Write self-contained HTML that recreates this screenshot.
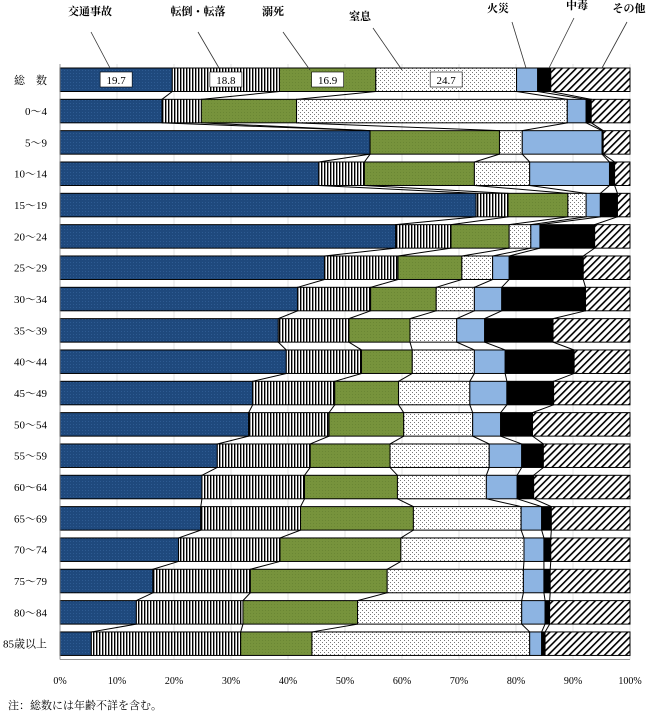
<!DOCTYPE html>
<html><head><meta charset="utf-8"><style>
html,body{margin:0;padding:0;background:#fff;width:650px;height:715px;overflow:hidden}
svg{display:block;font-family:"Liberation Serif","Noto Serif CJK SC",serif}
</style></head><body>
<svg id="chart" width="650" height="715" viewBox="0 0 650 715" xmlns="http://www.w3.org/2000/svg">
<defs>
<pattern id="p0" width="3" height="3" patternUnits="userSpaceOnUse"><rect width="3" height="3" fill="#1f497d"/><rect x="1" y="1" width="1" height="1" fill="#2e5b92"/></pattern>
<pattern id="p1" width="3" height="4" patternUnits="userSpaceOnUse"><rect width="3" height="4" fill="#fff"/><rect width="1.4" height="4" fill="#000"/></pattern>
<pattern id="p2" width="3" height="3" patternUnits="userSpaceOnUse"><rect width="3" height="3" fill="#77933c"/><rect x="1" y="1" width="1" height="1" fill="#6a8634"/></pattern>
<pattern id="p3" width="4" height="4" patternUnits="userSpaceOnUse"><rect width="4" height="4" fill="#fff"/><rect x="0" y="0" width="1" height="1" fill="#777"/><rect x="2" y="2" width="1" height="1" fill="#777"/></pattern>
<pattern id="p4" width="3" height="3" patternUnits="userSpaceOnUse"><rect width="3" height="3" fill="#8db4e2"/></pattern>
<pattern id="p5" width="3" height="3" patternUnits="userSpaceOnUse"><rect width="3" height="3" fill="#000"/></pattern>
<pattern id="p6" width="5" height="5" patternUnits="userSpaceOnUse" patternTransform="rotate(-45)"><rect width="5" height="5" fill="#fff"/><rect width="5" height="1.6" fill="#000"/></pattern>
</defs>
<g id="grid"></g><g id="bars"></g><g id="conn"></g><g id="axis"></g><g id="callouts"></g>
<text x="8" y="709" font-size="11">注：総数には年齢不詳を含む。</text>
</svg>
<script>
const categories=["総　数","0～4","5～9","10～14","15～19","20～24","25～29","30～34","35～39","40～44","45～49","50～54","55～59","60～64","65～69","70～74","75～79","80～84","85歳以上"];
const seriesNames=["交通事故","転倒・転落","溺死","窒息","火災","中毒","その他"];
const traffic=[19.7,17.9,54.4,45.4,73.0,58.9,46.4,41.7,38.3,39.7,33.8,33.1,27.6,24.9,24.7,20.8,16.3,13.4,5.5];
const fall=[18.8,6.9,0,8.0,5.6,9.7,12.9,12.8,12.4,13.2,14.4,14.1,16.3,18.0,17.5,17.8,17.1,18.7,26.2];
const drown=[16.9,16.7,22.7,19.3,10.5,10.2,11.2,11.5,10.7,8.9,11.2,13.1,14.0,16.3,19.8,21.2,24.0,20.1,12.5];
const suffoc=[24.7,47.5,4.0,9.7,3.2,3.8,5.4,6.7,8.2,10.9,12.5,12.1,17.4,15.6,18.9,21.6,23.9,28.8,38.2];
const fire=[3.7,3.3,14.0,14.0,2.5,1.6,2.9,4.8,4.9,5.4,6.5,4.9,5.7,5.4,3.6,3.5,3.6,4.1,2.1];
const poison=[2.3,0.9,0.2,0.9,3.0,9.6,13.0,14.7,12.0,12.1,8.2,5.6,3.8,2.9,1.7,1.2,1.1,0.8,0.6];
const other=[13.9,6.8,4.7,2.7,2.2,6.2,8.2,7.8,13.5,9.8,13.4,17.1,15.2,16.9,13.8,13.9,14.0,14.1,14.9];
const totalLabels=["19.7","18.8","16.9","24.7"];
const xTicks=[0,10,20,30,40,50,60,70,80,90,100];
const series=[traffic,fall,drown,suffoc,fire,poison,other];
const keys=["traffic","fall","drown","suffocation","fire","poison","other"];
const NS="http://www.w3.org/2000/svg";
const X0=60,X1=630,Y0=68,PITCH=31.33,BH=23.5;
const x=v=>X0+(X1-X0)*v/100;
const y=i=>Y0+i*PITCH;
function mk(tag,attrs,parent){const e=document.createElementNS(NS,tag);for(const k in attrs)e.setAttribute(k,attrs[k]);parent.appendChild(e);return e;}
const g=document.getElementById('grid'),b=document.getElementById('bars'),c=document.getElementById('conn'),a=document.getElementById('axis'),co=document.getElementById('callouts');
// gridlines
xTicks.forEach(t=>{const l=mk('line',{x1:x(t),x2:x(t),y1:Y0-4,y2:y(18)+BH+4,stroke:'#d0d0d0','stroke-width':0.6},g);

});
// cumulative
const cum=categories.map((_,i)=>{let s=0;const r=[0];series.forEach(se=>{s+=se[i];r.push(s);});const tot=s;return r.map(v=>v*100/tot);});
categories.forEach((cat,i)=>{
  series.forEach((se,k)=>{
    const w=x(cum[i][k+1])-x(cum[i][k]);
    if(w<=0)return;
    const r=mk('rect',{x:x(cum[i][k]),y:y(i),width:w,height:BH,fill:'url(#p'+k+')',stroke:'#000','stroke-width':1},b);
    
    
  });
  const t=mk('text',{x:47,y:y(i)+BH/2+4,'font-size':11,'text-anchor':'end'},a);t.textContent=cat;
  
  
  if(i<categories.length-1){
    for(let k=1;k<7;k++){
      const l=mk('line',{x1:x(cum[i][k]),y1:y(i)+BH,x2:x(cum[i+1][k]),y2:y(i+1),stroke:'#000','stroke-width':1},c);
      
      
    }
  }
});
// labels in total bar
totalLabels.forEach((lab,k)=>{
  const cx=(x(cum[0][k])+x(cum[0][k+1]))/2;
  const r=mk('rect',{x:cx-16,y:y(0)+4,width:32,height:15,fill:'#fff',stroke:'#000','stroke-width':0.6},b);
  
  
  const t=mk('text',{x:cx,y:y(0)+16,'font-size':11,'text-anchor':'middle'},b);t.textContent=lab;
  
  
});
// axis
mk('line',{x1:X0,x2:X1,y1:y(18)+BH+4,y2:y(18)+BH+4,stroke:'#888','stroke-width':0.8},a);
mk('line',{x1:X0,x2:X0,y1:Y0-4,y2:y(18)+BH+4,stroke:'#888','stroke-width':0.8},a);
xTicks.forEach(t=>{const e=mk('text',{x:x(t),y:684,'font-size':10,'text-anchor':'middle'},a);e.textContent=t+'%';

});
// callouts
const cal=[[90,15,91,32,110,68],[198,15,198,32,219,68],[273,15,283,32,310,70],[360,20,373,28,402,70],[498,12,512,22,526,68],[577,9,574,18,549,68],[629,12,627,22,602,68]];
cal.forEach((p,k)=>{
  const t=mk('text',{x:p[0],y:p[1],'font-size':11,'text-anchor':'middle','font-weight':'bold'},co);t.textContent=seriesNames[k];
  
  
  const l=mk('line',{x1:p[2],y1:p[3],x2:p[4],y2:p[5],stroke:'#333','stroke-width':0.8},co);
  
  
});
</script>
</body></html>
